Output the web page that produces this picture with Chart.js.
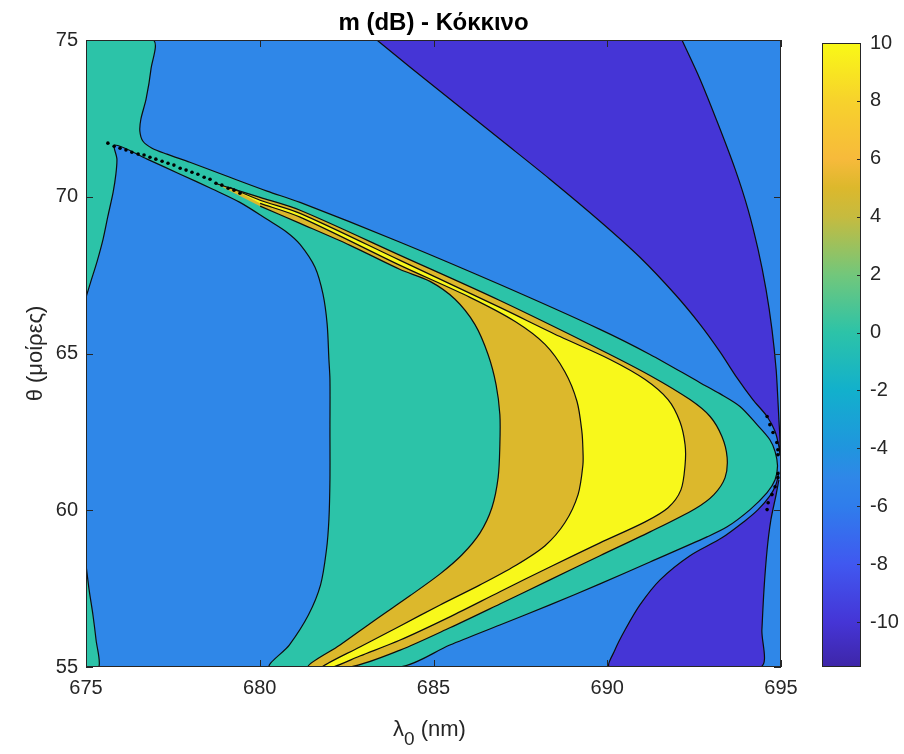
<!DOCTYPE html>
<html>
<head>
<meta charset="utf-8">
<script src="https://cdn.jsdelivr.net/npm/chart.js@4.4.1/dist/chart.umd.min.js"></script>
<style>
  html, body { margin: 0; padding: 0; background: #ffffff; }
  #wrap { position: relative; width: 904px; height: 754px; }
  #main { position: absolute; left: 0; top: 0; }
  #cbar { position: absolute; left: 800px; top: 0; }
</style>
</head>
<body>
<div id="wrap">
  <canvas id="main" width="904" height="754"></canvas>
  <canvas id="cbar" width="104" height="754"></canvas>
</div>
<script>
// Axis ranges and ticks
const lambdaRange = [675, 695];
const thetaRange = [55, 75];
const lambdaTicks = [675, 680, 685, 690, 695];
const thetaTicks = [55, 60, 65, 70, 75];

// Contour levels (dB) and the fill colour of each band
const levels = [-10, -5, 0, 5, 10];
const bandColors = ['#4535D6', '#2F87E8', '#2CC3A8', '#DCB82C', '#F8F81B'];

// Colour bar range and ticks
const cbarRange = [-11.55, 10];
const cbarTicks = [-10, -8, -6, -4, -2, 0, 2, 4, 6, 8, 10];
const cbarStops = [
  [-11.55, '#3E26A8'], [-10, '#4535D6'], [-8, '#4058F0'], [-6, '#2F7DEC'],
  [-5, '#2F87E8'], [-4, '#2095DE'], [-2, '#12B0CC'], [0, '#2CC3A8'],
  [2, '#72C77B'], [4, '#C6BB3F'], [5, '#DCB82C'], [6, '#F7BA3B'],
  [8, '#F7D22C'], [10, '#F9F916']
];

// Filled regions as [λ (nm), θ (deg)] outlines
// -5 .. 0 dB band covers the whole field underneath the others
const fieldArea = [[675, 55], [675, 75], [695, 75], [695, 55]];

// -10 .. -5 dB, upper right
const purpleUpper = [
  [683.37, 75], [684.32, 74.14], [685.47, 73.12], [686.91, 71.84], [688.35, 70.56],
  [689.79, 69.22], [690.94, 68.07], [691.95, 66.89], [692.67, 65.93], [693.24, 65.06],
  [693.73, 64.23], [694.19, 63.53], [694.60, 62.99], [694.83, 62.51], [694.94, 62.03],
  [694.97, 61.77], [694.97, 62.25], [694.94, 62.89], [694.91, 63.53], [694.86, 64.49],
  [694.74, 65.77], [694.57, 67.04], [694.34, 68.32], [694.05, 69.60], [693.68, 70.88],
  [693.19, 72.32], [692.67, 73.75], [692.15, 75]
];

// -10 .. -5 dB, lower right
const purpleLower = [
  [694.94, 61.23], [694.86, 60.84], [694.68, 60.46], [694.34, 60.02], [693.96, 59.66],
  [693.30, 59.12], [692.38, 58.55], [691.52, 57.78], [690.94, 56.98], [690.51, 56.18],
  [690.22, 55.54], [690.08, 55], [694.40, 55], [694.45, 56.18], [694.51, 57.46],
  [694.60, 58.74], [694.71, 59.70], [694.86, 60.50], [694.94, 60.97]
];

// 0 .. 5 dB, lower left corner
const tealCorner = [
  [675, 58.26], [675.09, 57.46], [675.20, 56.66], [675.29, 55.86], [675.37, 55], [675, 55]
];

// 0 .. 5 dB, upper left strip joined to the chevron
const tealMain = [
  [675, 75], [676.93, 75], [676.87, 74.07], [676.73, 73.12], [676.58, 72.48],
  [676.55, 72.09], [676.64, 71.77], [676.90, 71.55], [677.33, 71.36], [677.99, 71.10],
  [679.14, 70.62], [680.21, 70.18], [681.16, 69.82], [684.04, 68.55], [686.91, 67.20],
  [689.79, 65.77], [691.23, 64.97], [692.67, 64.07], [693.24, 63.72], [693.82, 63.31],
  [694.31, 62.73], [694.68, 62.25], [694.83, 61.87], [694.90, 61.42], [694.83, 60.97],
  [694.60, 60.56], [694.11, 60.02], [693.45, 59.47], [692.87, 59.15], [691.23, 58.35],
  [689.79, 57.65], [688.35, 56.98], [686.91, 56.34], [685.47, 55.70], [684.04, 55],
  [680.30, 55], [680.85, 55.70], [681.40, 56.66], [681.75, 57.62], [681.92, 58.74],
  [681.99, 59.70], [682.02, 60.97], [682.02, 62.57], [682.02, 64.17], [681.99, 64.81],
  [681.94, 65.93], [681.82, 66.89], [681.59, 67.75], [681.16, 68.48], [680.78, 68.87],
  [680.21, 69.28], [679.43, 69.82], [678.65, 70.24], [677.71, 70.72], [676.76, 71.20],
  [675.83, 71.65], [675.89, 71.20], [675.86, 70.72], [675.78, 70.14], [675.63, 69.38],
  [675.49, 68.64], [675.32, 67.94], [675.14, 67.30], [675, 66.79]
];

// 5 .. 10 dB
const ochreBand = [
  [678.71, 70.43], [680.01, 69.98], [681.16, 69.57], [684.04, 68.13], [686.91, 66.69],
  [689.79, 65.13], [691.23, 64.30], [692.38, 63.53], [692.96, 62.99], [693.30, 62.35],
  [693.45, 61.68], [693.39, 61.04], [693.07, 60.50], [692.53, 60.05], [691.23, 59.31],
  [689.79, 58.55], [688.35, 57.78], [686.91, 57.01], [685.47, 56.25], [684.04, 55.54],
  [682.60, 55], [681.39, 55], [682.31, 55.70], [683.32, 56.50], [684.32, 57.27],
  [685.19, 57.97], [685.82, 58.58], [686.34, 59.28], [686.68, 60.08], [686.86, 61.04],
  [686.91, 62.09], [686.91, 63.05], [686.80, 64.01], [686.57, 64.97], [686.19, 65.93],
  [685.62, 66.73], [684.90, 67.30], [684.04, 67.68], [682.60, 68.45], [681.16, 69.15],
  [680.01, 69.70]
];

// above 10 dB
const yellowBand = [
  [679.14, 70.30], [680.01, 69.89], [681.16, 69.47], [684.04, 67.97], [686.91, 66.47],
  [688.64, 65.54], [690.08, 64.81], [691.09, 64.17], [691.75, 63.53], [692.09, 62.83],
  [692.24, 62.09], [692.24, 61.45], [692.12, 60.65], [691.75, 60.08], [691.09, 59.63],
  [689.79, 58.96], [688.35, 58.19], [686.91, 57.40], [685.47, 56.60], [684.04, 55.86],
  [682.88, 55.35], [682.11, 55], [681.79, 55], [682.88, 55.64], [684.04, 56.31],
  [685.19, 56.98], [686.34, 57.62], [687.35, 58.23], [688.21, 58.87], [688.78, 59.60],
  [689.16, 60.50], [689.30, 61.45], [689.30, 61.93], [689.27, 62.51], [689.13, 63.47],
  [688.78, 64.42], [688.21, 65.29], [687.35, 66.02], [686.05, 66.79], [684.04, 67.81],
  [681.16, 69.35], [680.01, 69.79]
];

// Tiny closed contours along the narrow ridge and near the right edge
const ridgeSpecks = [
  [675.63, 71.71], [675.81, 71.61], [675.98, 71.55], [676.15, 71.49], [676.32, 71.42],
  [676.50, 71.36], [676.67, 71.33], [676.84, 71.26], [677.01, 71.20], [677.19, 71.13],
  [677.36, 71.07], [677.53, 71.01], [677.71, 70.91], [677.88, 70.85], [678.05, 70.78],
  [678.22, 70.72], [678.40, 70.62], [678.57, 70.56], [678.74, 70.43], [678.91, 70.37],
  [679.09, 70.27], [679.26, 70.21], [679.43, 70.11]
];
const edgeSpecks = [
  [694.60, 62.99], [694.68, 62.73], [694.77, 62.48], [694.88, 62.16], [694.91, 61.93],
  [694.91, 61.77], [694.91, 61.17], [694.91, 61.04], [694.83, 60.75], [694.74, 60.50],
  [694.63, 60.24], [694.60, 60.02]
];

const titleText = 'm (dB) - Κόκκινο';
const yTitleText = 'θ (μοίρες)';
const xTitleParts = ['λ', '0', ' (nm)'];

const FONT = '"Liberation Sans", Arial, Helvetica, sans-serif';
const AXIS_COLOR = '#262626';
const LINE_COLOR = '#0d0d0d';

const toXY = arr => arr.map(p => ({ x: p[0], y: p[1] }));

function region(data, color, outlined) {
  return {
    data: toXY(data),
    indexAxis: 'y',
    backgroundColor: color,
    borderColor: outlined ? LINE_COLOR : 'rgba(0,0,0,0)',
    borderWidth: outlined ? 1.2 : 0,
    fill: 'shape',
    pointRadius: 0,
    tension: 0.3
  };
}
function specks(data, r) {
  return {
    data: toXY(data),
    indexAxis: 'y',
    showLine: false,
    fill: false,
    pointRadius: r,
    pointBackgroundColor: '#000000',
    pointBorderWidth: 0
  };
}

// Inward tick marks and the axes box
const axesBox = {
  id: 'axesBox',
  afterDatasetsDraw(chart) {
    const { ctx, chartArea: a, scales: { x, y } } = chart;
    const len = 7;
    ctx.save();
    ctx.strokeStyle = AXIS_COLOR;
    ctx.lineWidth = 1;
    ctx.beginPath();
    x.ticks.forEach(t => {
      const px = Math.round(x.getPixelForValue(t.value)) + 0.5;
      ctx.moveTo(px, a.bottom); ctx.lineTo(px, a.bottom - len);
      ctx.moveTo(px, a.top); ctx.lineTo(px, a.top + len);
    });
    y.ticks.forEach(t => {
      const py = Math.round(y.getPixelForValue(t.value)) + 0.5;
      ctx.moveTo(a.left, py); ctx.lineTo(a.left + len, py);
      ctx.moveTo(a.right, py); ctx.lineTo(a.right - len, py);
    });
    ctx.stroke();
    ctx.strokeRect(a.left + 0.5, a.top + 0.5, a.right - a.left - 1, a.bottom - a.top - 1);
    ctx.restore();
  }
};

// x-axis label with a subscript
const lambdaLabel = {
  id: 'lambdaLabel',
  afterDraw(chart) {
    const { ctx, chartArea: a } = chart;
    const cx = (a.left + a.right) / 2;
    const base = a.bottom + 69;
    const fMain = '22px ' + FONT;
    const fSub = '19px ' + FONT;
    ctx.save();
    ctx.fillStyle = AXIS_COLOR;
    ctx.textAlign = 'left';
    ctx.textBaseline = 'alphabetic';
    ctx.font = fMain;
    const w0 = ctx.measureText(xTitleParts[0]).width;
    const w2 = ctx.measureText(xTitleParts[2]).width;
    ctx.font = fSub;
    const w1 = ctx.measureText(xTitleParts[1]).width;
    let x0 = cx - (w0 + w1 + w2) / 2 - 4;
    ctx.font = fMain;
    ctx.fillText(xTitleParts[0], x0, base);
    ctx.font = fSub;
    ctx.fillText(xTitleParts[1], x0 + w0, base + 9);
    ctx.font = fMain;
    ctx.fillText(xTitleParts[2], x0 + w0 + w1, base);
    ctx.restore();
  }
};

new Chart(document.getElementById('main'), {
  type: 'line',
  data: {
    datasets: [
      specks(edgeSpecks, 1.8),
      specks(ridgeSpecks, 1.8),
      region(yellowBand, bandColors[4], true),
      region(ochreBand, bandColors[3], true),
      region(tealMain, bandColors[2], true),
      region(tealCorner, bandColors[2], true),
      region(purpleLower, bandColors[0], true),
      region(purpleUpper, bandColors[0], true),
      region(fieldArea, bandColors[1], false)
    ]
  },
  options: {
    responsive: false,
    animation: false,
    indexAxis: 'y',
    layout: { padding: { left: 0, right: 123, top: 0, bottom: 0 } },
    plugins: {
      legend: { display: false },
      tooltip: { enabled: false },
      title: {
        display: true,
        text: titleText,
        fullSize: false,
        color: '#000000',
        font: { family: FONT, size: 24, weight: 'bold', lineHeight: 1.2 },
        padding: { top: 8.5, bottom: 2.7 }
      }
    },
    scales: {
      x: {
        type: 'linear',
        position: 'bottom',
        min: lambdaRange[0],
        max: lambdaRange[1],
        grid: { display: false, drawTicks: false },
        border: { display: false },
        afterBuildTicks(s) { s.ticks = lambdaTicks.map(v => ({ value: v })); },
        ticks: { autoSkip: false, maxRotation: 0, padding: 9, color: AXIS_COLOR, font: { family: FONT, size: 20 } },
        afterFit(s) { s.height = 87; }
      },
      y: {
        type: 'linear',
        position: 'left',
        min: thetaRange[0],
        max: thetaRange[1],
        grid: { display: false, drawTicks: false },
        border: { display: false },
        afterBuildTicks(s) { s.ticks = thetaTicks.map(v => ({ value: v })); },
        ticks: { autoSkip: false, padding: 8, color: AXIS_COLOR, font: { family: FONT, size: 20 } },
        title: { display: true, text: yTitleText, color: AXIS_COLOR, font: { family: FONT, size: 22 }, padding: { top: 23 } },
        afterFit(s) { s.width = 86; }
      }
    }
  },
  plugins: [axesBox, lambdaLabel]
});

// Colour bar
function cbarGradient(context) {
  const chart = context.chart;
  const a = chart.chartArea;
  if (!a) return bandColors[1];
  const span = cbarRange[1] - cbarRange[0];
  const g = chart.ctx.createLinearGradient(0, a.bottom, 0, a.top);
  cbarStops.forEach(([v, c]) => g.addColorStop((v - cbarRange[0]) / span, c));
  return g;
}

const cbarBox = {
  id: 'cbarBox',
  afterDatasetsDraw(chart) {
    const { ctx, chartArea: a, scales: { y } } = chart;
    ctx.save();
    ctx.strokeStyle = AXIS_COLOR;
    ctx.lineWidth = 1;
    ctx.beginPath();
    y.ticks.forEach(t => {
      const py = Math.round(y.getPixelForValue(t.value)) + 0.5;
      ctx.moveTo(a.right, py); ctx.lineTo(a.right - 4, py);
    });
    ctx.stroke();
    ctx.strokeRect(a.left + 0.5, a.top + 0.5, a.right - a.left - 1, a.bottom - a.top - 1);
    ctx.restore();
  }
};

new Chart(document.getElementById('cbar'), {
  type: 'bar',
  data: {
    labels: ['m'],
    datasets: [{
      data: [cbarRange],
      backgroundColor: cbarGradient,
      borderWidth: 0,
      barPercentage: 1,
      categoryPercentage: 1
    }]
  },
  options: {
    responsive: false,
    animation: false,
    layout: { padding: { left: 22, right: 0, top: 43, bottom: 87 } },
    plugins: { legend: { display: false }, tooltip: { enabled: false } },
    scales: {
      x: { display: false },
      y: {
        position: 'right',
        min: cbarRange[0],
        max: cbarRange[1],
        grid: { display: false, drawTicks: false },
        border: { display: false },
        afterBuildTicks(s) { s.ticks = cbarTicks.map(v => ({ value: v })); },
        ticks: { autoSkip: false, padding: 9, color: AXIS_COLOR, font: { family: FONT, size: 20 } },
        afterFit(s) { s.width = 43; }
      }
    }
  },
  plugins: [cbarBox]
});
</script>
</body>
</html>
